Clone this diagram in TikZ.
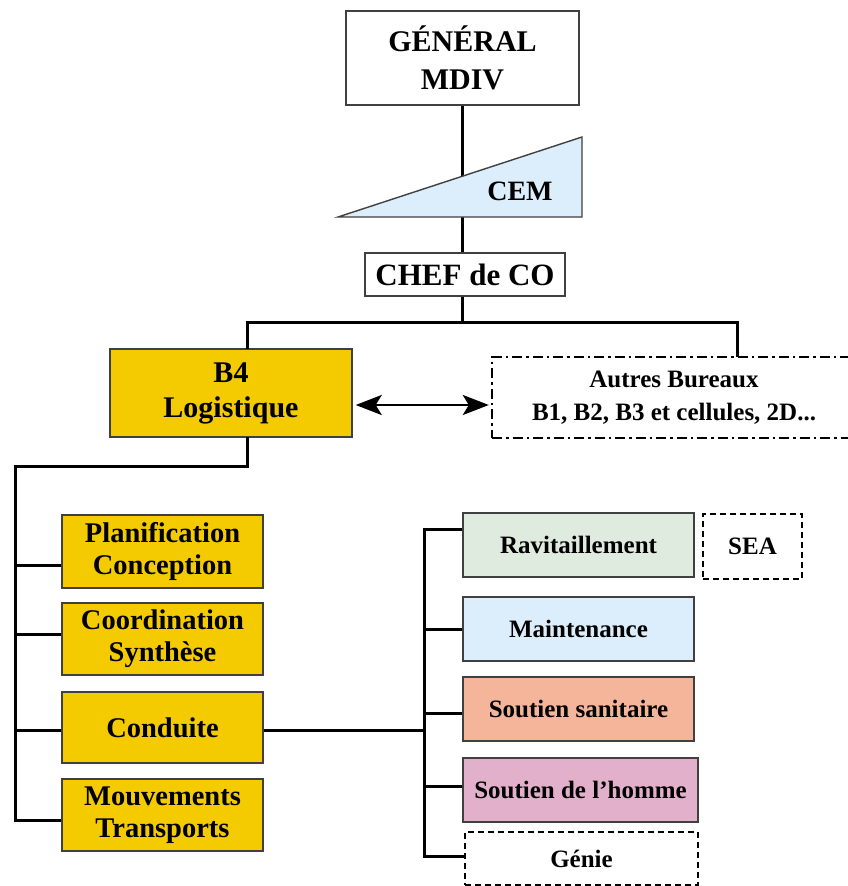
\documentclass[tikz,border=0pt]{standalone}
\usepackage{fontspec}
\setmainfont{Liberation Serif}
\usetikzlibrary{arrows.meta}
\definecolor{jaune}{HTML}{F4CA00}
\definecolor{vert}{HTML}{DFEBDF}
\definecolor{bleu}{HTML}{DCEEFB}
\definecolor{saumon}{HTML}{F4B59A}
\definecolor{rose}{HTML}{E2B0CB}
\definecolor{bord}{HTML}{404040}
\tikzset{bigtip/.tip={Stealth[length=26pt,width=20pt,inset=6pt]}}
\begin{document}
\begin{tikzpicture}[x=1pt,y=-1pt,
  box/.style={draw=bord,line width=1.4pt,rectangle,inner sep=0pt,align=center},
  big/.style={font=\fontsize{28.5}{32}\selectfont\bfseries},
  mid/.style={font=\fontsize{25}{28}\selectfont\bfseries},
  dashbox/.style={box,draw=black,line width=2.2pt,dash pattern=on 6pt off 4pt},
  link/.style={line width=3pt,black},
]
\useasboundingbox (0,0) rectangle (847,886);

% ---- top of the command chain
\node[box,fill=white,minimum width=233,minimum height=94,
      font=\fontsize{30}{38}\selectfont\bfseries] (gen) at (462.5,58) {GÉNÉRAL\\MDIV};
\node[box,fill=white,minimum width=200,minimum height=43,
      font=\fontsize{31}{34}\selectfont\bfseries] (chef) at (465,274.5) {CHEF de CO};
\coordinate (hub) at (462,322);
\draw[link] (gen.south -| hub) -- (chef.north -| hub);

% chief of staff wedge
\coordinate (cemA) at (338,217);
\coordinate (cemB) at (582,137);
\coordinate (cemC) at (582,217);
\draw[bord,line width=1.4pt,fill=bleu] (cemA) -- (cemB) -- (cemC) -- cycle;
\node[font=\fontsize{28}{30}\selectfont\bfseries] (cem) at (520,191) {CEM};

% ---- bureaux
\node[box,fill=jaune,minimum width=242,minimum height=88,
      font=\fontsize{30}{35}\selectfont\bfseries] (b4) at (231,393) {B4\\Logistique};
\node[box,draw=black,line width=2.4pt,dash pattern=on 10pt off 4pt on 2.5pt off 4pt,
      font=\fontsize{25}{33}\selectfont\bfseries,
      minimum width=364,minimum height=81] (autres) at (674,397.5)
      {Autres Bureaux\\B1, B2, B3 et cellules, 2D...};
\coordinate (b4top) at (247,349);
\coordinate (autrestop) at (737,357);
\draw[link] (chef.south -| hub) -- (hub);
\draw[link] (b4top) |- (hub) -| (autrestop);
\coordinate (arrowrow) at (0,405);
\draw[line width=2.8pt,bigtip-bigtip]
  ([xshift=3pt]b4.east |- arrowrow) -- ([xshift=-2pt]autres.west |- arrowrow);

% ---- B4 cells
\node[box,big,fill=jaune,minimum width=201,minimum height=73] (plan) at (162.5,551.5) {Planification\\Conception};
\node[box,big,fill=jaune,minimum width=201,minimum height=72] (coord) at (162.5,639) {Coordination\\Synthèse};
\node[box,big,fill=jaune,minimum width=201,minimum height=71] (cond) at (162.5,727.5) {Conduite};
\node[box,big,fill=jaune,minimum width=201,minimum height=72] (mouv) at (162.5,815) {Mouvements\\Transports};

\coordinate (b4bot) at (247,437);
\coordinate (lbus) at (15,466);
\coordinate (lend) at (15,820);
\draw[link] (b4bot) |- (lbus) -- (lend) -- (lend -| mouv.west);
\draw[link] (lbus |- 0,565) -- (plan.west |- 0,565);
\draw[link] (lbus |- 0,634) -- (coord.west |- 0,634);
\draw[link] (lbus |- 0,730) -- (cond.west |- 0,730);

% ---- supply functions under Conduite
\node[box,mid,fill=vert,minimum width=231,minimum height=64] (rav) at (578.5,545) {Ravitaillement};
\node[box,mid,fill=bleu,minimum width=231,minimum height=64] (maint) at (578.5,629) {Maintenance};
\node[box,mid,fill=saumon,minimum width=231,minimum height=64] (sant) at (578.5,709) {Soutien sanitaire};
\node[box,mid,fill=rose,minimum width=235,minimum height=64] (homme) at (580.5,790) {Soutien de l’homme};
\node[dashbox,mid,minimum width=233,minimum height=53] (genie) at (581.5,858.5) {Génie};
\node[dashbox,mid,minimum width=99,minimum height=65] (sea) at (752.5,546.5) {SEA};

\coordinate (rtop) at (424,529);
\coordinate (rbot) at (424,856);
\draw[link] (cond.east |- 0,730) -- (rtop |- 0,730);
\draw[link] (rav.west |- rtop) -- (rtop) -- (rbot) -- (genie.west |- rbot);
\draw[link] (rtop |- 0,629) -- (maint.west |- 0,629);
\draw[link] (rtop |- 0,713) -- (sant.west |- 0,713);
\draw[link] (rtop |- 0,786) -- (homme.west |- 0,786);
\end{tikzpicture}
\end{document}
